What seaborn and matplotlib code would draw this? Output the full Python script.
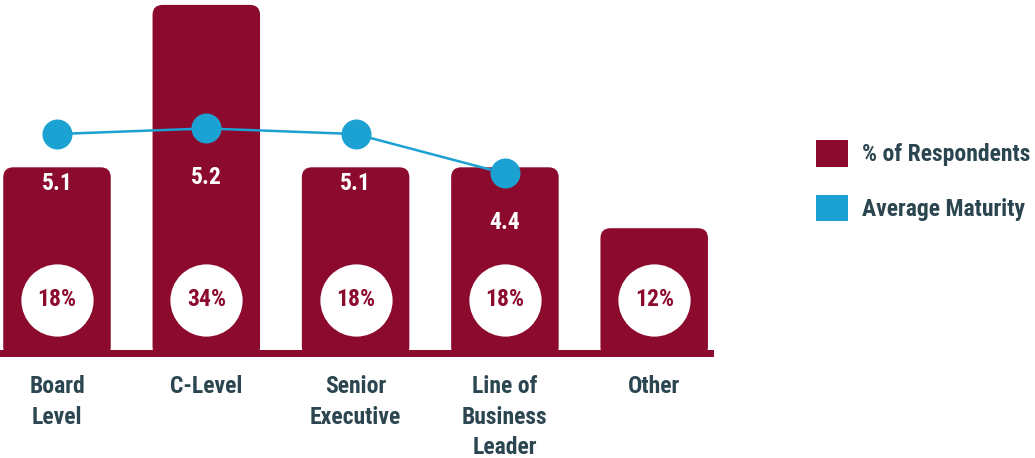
import numpy as np
import pandas as pd
import matplotlib
matplotlib.use("Agg")
import matplotlib.pyplot as plt
import matplotlib.transforms as mtrans
from matplotlib import font_manager as fm
from matplotlib.patches import FancyBboxPatch, Patch
import seaborn as sns

# ---- data ----
categories = ["Board\nLevel", "C-Level", "Senior\nExecutive", "Line of\nBusiness\nLeader", "Other"]
respondents_pct = [18, 34, 18, 18, 12]
avg_maturity = [5.1, 5.2, 5.1, 4.4, np.nan]
legend_labels = ["% of Respondents", "Average Maturity"]

BAR = "#8C0A2E"
BLUE = "#1BA1D2"
TEXT = "#2B4650"

sns.set_theme(style="white")
names = {f.name for f in fm.fontManager.ttflist}
fam = next(n for n in ["Roboto Condensed", "Liberation Sans Narrow", "Roboto", "DejaVu Sans"] if n in names)
condensed = fam in ("Roboto Condensed", "Liberation Sans Narrow")
plt.rcParams["font.family"] = [fam, "DejaVu Sans"]
fs = 17 if condensed else 15.5
fs_leg = 17 if condensed else 15
fs_px = fs_leg * 100 / 72

W, H = 1035, 458
fig = plt.figure(figsize=(W / 100, H / 100), dpi=100)
fig.patch.set_facecolor("white")
ax = fig.add_axes([0, (H - 357) / H, 714 / W, 357 / H])
ax.set_facecolor("none")

df = pd.DataFrame({"category": categories, "pct": respondents_pct, "maturity": avg_maturity})
df["pos"] = np.arange(len(df))

sns.barplot(data=df, x="category", y="pct", color=BAR, saturation=1, width=0.72, ax=ax)

c0 = 57
px_x, px_y = 149.3, 10.15
xlim = (-c0 / px_x, (714 - c0) / px_x)
ylim = ((350 - 357) / px_y, 350 / px_y)
ax.set_xlim(*xlim)
ax.set_ylim(*ylim)

# rounded-top bars
r = 10 / px_x
aspect = px_x / px_y
ybot = ylim[0]
for p in list(ax.patches):
    x0, w, h = p.get_x(), p.get_width(), p.get_height()
    fb = FancyBboxPatch((x0, ybot), w, h - ybot,
                        boxstyle=f"round,pad=0,rounding_size={r}",
                        mutation_aspect=aspect, fc=BAR, ec="none", zorder=2)
    ax.add_patch(fb)
    p.set_visible(False)

# base band
ax.axhspan(ybot, 0, color=BAR, zorder=1, lw=0)

# percent circles
trans = mtrans.blended_transform_factory(ax.transData, ax.transAxes)
circle_y = (357 - 300) / 357
ax.scatter(df["pos"], np.full(len(df), circle_y), s=52 ** 2, c="white",
           transform=trans, zorder=3, linewidths=0)
for i, v in zip(df["pos"], df["pct"]):
    ax.text(i, circle_y, f"{v}%", transform=trans, ha="center", va="center",
            color=BAR, fontweight="bold", fontsize=fs, zorder=4)

# maturity line
ax2 = ax.twinx()
ax2.set_ylim(1.140, 7.481)
sns.lineplot(data=df, x="pos", y="maturity", color=BLUE, lw=1.8, marker="o",
             markersize=21.6, markeredgewidth=0, ax=ax2, zorder=5)
ax2.set_xlim(*xlim)
for i, m in zip(df["pos"], df["maturity"]):
    if not np.isnan(m):
        ax2.annotate(f"{m:.1f}", (i, m), xytext=(0, -49), textcoords="offset pixels",
                     ha="center", va="center", color="white", fontweight="bold",
                     fontsize=fs, zorder=6)

for a in (ax, ax2):
    for s in a.spines.values():
        s.set_visible(False)
    a.set_yticks([])
    a.set_ylabel("")
    a.set_xlabel("")

ax.tick_params(axis="x", length=0, pad=13, labelsize=fs, labelcolor=TEXT)
for lbl in ax.get_xticklabels():
    lbl.set_fontweight("bold")
    lbl.set_linespacing(1.42)
    lbl.set_verticalalignment("top")

leg = fig.legend(handles=[Patch(fc=BAR, ec="none"), Patch(fc=BLUE, ec="none")],
                 labels=legend_labels, loc="upper left",
                 bbox_to_anchor=(816 / W, 1 - 140 / H), frameon=False,
                 borderpad=0, borderaxespad=0,
                 handlelength=32 / fs_px, handleheight=32 / fs_px,
                 handletextpad=14 / fs_px, labelspacing=28 / fs_px,
                 prop=dict(weight="bold", size=fs_leg))
for t in leg.get_texts():
    t.set_color(TEXT)

fig.savefig("out.png", dpi=100)
